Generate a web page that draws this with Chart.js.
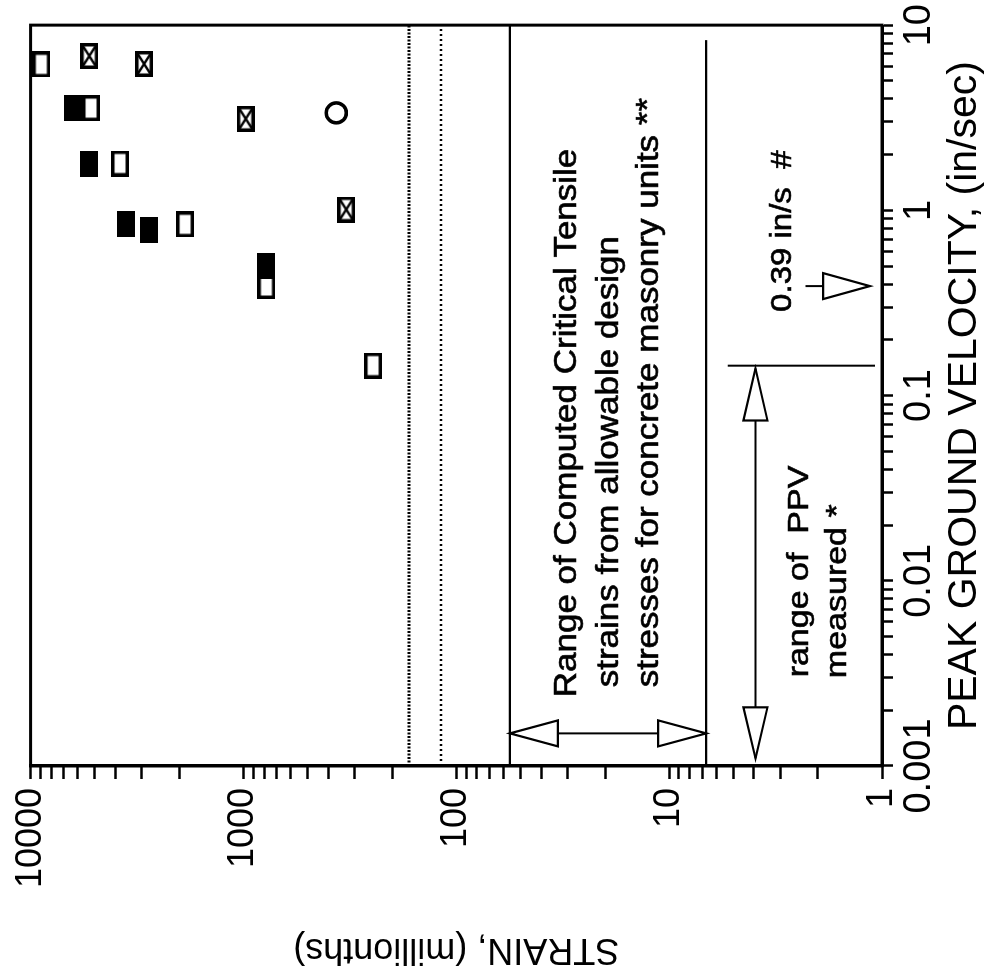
<!DOCTYPE html>
<html><head><meta charset="utf-8">
<style>
html,body{margin:0;padding:0;overflow:hidden;background:#fff;width:989px;height:973px;}
#wrap{position:absolute;left:0;top:0;width:973px;height:989px;transform-origin:0 0;transform:matrix(0,-1,1,0,0,973);background:#fff;}
canvas{display:block;}
</style>
<script src="https://cdn.jsdelivr.net/npm/chart.js@4.4.1/dist/chart.umd.min.js"></script>
</head><body><div id="wrap"><canvas id="c" width="973" height="989" style="width:973px;height:989px"></canvas></div>
<script>
// ---- data (PGV in in/sec, strain in millionths) ----
const openPgv = [6.13, 3.56, 1.79, 0.84, 0.39, 0.145];
const openStrain = [8900, 5200, 3800, 1880, 780, 246];
const filledPgv = [3.56, 1.78, 0.84, 0.78, 0.50];
const filledStrain = [6300, 5300, 3550, 2780, 780];
const crossedPgv = [6.81, 6.17, 3.12, 1.01];
const crossedStrain = [5300, 2930, 976, 329];
const circlePgv = [3.36];
const circleStrain = [366];

const pgvTickValues = [0.001, 0.01, 0.1, 1, 10];
const pgvTickLabels = ['0.001', '0.01', '0.1', '1', '10'];
const strainTickValues = [1, 10, 100, 1000, 10000];
const strainTickLabels = ['1', '10', '100', '1000', '10000'];

const allowableStrains = [167, 118];
const criticalRange = [6.7, 56];
const criticalArrowPgv = 0.0015;
const criticalLowTopPgv = 8.3;
const ppvRange = [0.0011, 0.14];
const ppvArrowStrain = 3.93;
const ppvMarkPgv = 0.145;
const ppvMarkStrain = [1.08, 5.3];
const limitPgv = 0.39;
const limitArrowStrain = [1.14, 1.89, 2.29]; // tip, head base, stem end

const noteLines = ['Range of Computed Critical Tensile', 'strains from allowable design', 'stresses for concrete masonry units **'];
const notePgv = [0.00235, 0.00266, 0.00266];
const noteStrain = [30, 19.1, 12.4];
const ppvLines = ['range of  PPV', 'measured *'];
const ppvTextPgv = [0.00301, 0.00298];
const ppvTextStrain = [2.42, 1.61];
const limitText = '0.39 in/s  #';
const limitTextPgv = 0.283;
const limitTextStrain = 2.94;

// ---- rendering ----
const FONT = "'Liberation Sans', Arial, Helvetica, sans-serif";

function makeMarker(kind) {
  const w = 26, h = 18, c = document.createElement('canvas');
  c.width = w; c.height = h;
  const g = c.getContext('2d');
  g.strokeStyle = '#000';
  if (kind === 'filled') {
    g.fillStyle = '#000'; g.fillRect(0, 0, w, h);
  } else {
    g.fillStyle = '#fff'; g.fillRect(0, 0, w, h);
    g.lineWidth = 3.5; g.strokeRect(1.75, 1.75, w - 3.5, h - 3.5);
    if (kind === 'crossed') {
      g.lineWidth = 2.5;
      g.beginPath(); g.moveTo(2, 2); g.lineTo(w - 2, h - 2); g.moveTo(w - 2, 2); g.lineTo(2, h - 2); g.stroke();
    }
  }
  return c;
}

function pts(xs, ys) { return xs.map((x, i) => ({x: x, y: ys[i]})); }
function markerDs(xs, ys, style, order) {
  return {data: pts(xs, ys), pointStyle: style, pointRadius: 10, pointHoverRadius: 10, showLine: false, order: order,
    borderColor: '#000', backgroundColor: '#000'};
}
function lineDs(data, width, dash) {
  return {data: data, showLine: true, pointRadius: 0, pointHoverRadius: 0, borderColor: '#000', borderWidth: width,
    borderDash: dash || [], fill: false, tension: 0, order: 10};
}

function logTicks(vals) {
  const out = [];
  for (let i = 0; i < vals.length - 1; i++) for (let k = 1; k < 10; k++) out.push({value: vals[i] * k});
  out.push({value: vals[vals.length - 1]});
  return out;
}
function labelFor(v, vals, labels) {
  for (let i = 0; i < vals.length; i++) if (Math.abs(v / vals[i] - 1) < 1e-6) return labels[i];
  return '';
}

const datasets = [
  markerDs(filledPgv, filledStrain, makeMarker('filled'), 0),
  markerDs(openPgv, openStrain, makeMarker('open'), 1),
  markerDs(crossedPgv, crossedStrain, makeMarker('crossed'), 2),
  Object.assign(markerDs(circlePgv, circleStrain, 'circle', 3), {backgroundColor: '#fff', borderWidth: 3.5, pointRadius: 10}),
  lineDs([{x: 0.001, y: allowableStrains[0]}, {x: 10, y: allowableStrains[0]}], 3, [2, 1.5]),
  lineDs([{x: 0.001, y: allowableStrains[1]}, {x: 10, y: allowableStrains[1]}], 2.5, [2, 3]),
  lineDs([{x: 0.001, y: criticalRange[1]}, {x: 10, y: criticalRange[1]}], 2.2),
  lineDs([{x: 0.001, y: criticalRange[0]}, {x: criticalLowTopPgv, y: criticalRange[0]}], 2.2),
  lineDs([{x: criticalArrowPgv, y: criticalRange[1]}, {x: criticalArrowPgv, y: criticalRange[0]}], 2),
  lineDs([{x: ppvRange[0], y: ppvArrowStrain}, {x: ppvRange[1], y: ppvArrowStrain}], 2),
  lineDs([{x: ppvMarkPgv, y: ppvMarkStrain[0]}, {x: ppvMarkPgv, y: ppvMarkStrain[1]}], 2),
  lineDs([{x: limitPgv, y: limitArrowStrain[1]}, {x: limitPgv, y: limitArrowStrain[2]}], 2)
];

function head(ctx, tx, ty, dx, dy, len, half) {
  const bx = tx - dx * len, by = ty - dy * len, px = -dy, py = dx;
  ctx.beginPath();
  ctx.moveTo(tx, ty);
  ctx.lineTo(bx + px * half, by + py * half);
  ctx.lineTo(bx - px * half, by - py * half);
  ctx.closePath();
  ctx.fillStyle = '#fff'; ctx.fill();
  ctx.lineWidth = 2.2; ctx.strokeStyle = '#000'; ctx.lineJoin = 'miter'; ctx.stroke();
}
function squashText(ctx, text, x, y, size, k) {
  ctx.save();
  ctx.font = size + 'px ' + FONT;
  ctx.fillStyle = '#000'; ctx.strokeStyle = '#000'; ctx.lineWidth = 0.7;
  ctx.textAlign = 'left'; ctx.textBaseline = 'middle';
  ctx.translate(x, y); ctx.scale(1, k);
  ctx.fillText(text, 0, 0);
  ctx.strokeText(text, 0, 0);
  ctx.restore();
}

const annot = {
  id: 'annot',
  afterDatasetsDraw(chart) {
    const ctx = chart.ctx, X = chart.scales.x, Y = chart.scales.y, a = chart.chartArea;
    ctx.save();
    // critical strain range double arrow
    const cu = X.getPixelForValue(criticalArrowPgv);
    head(ctx, cu, Y.getPixelForValue(criticalRange[1]), 0, -1, 48, 13);
    head(ctx, cu, Y.getPixelForValue(criticalRange[0]), 0, 1, 48, 13);
    // ppv range double arrow
    const pv = Y.getPixelForValue(ppvArrowStrain);
    head(ctx, X.getPixelForValue(ppvRange[0]), pv, -1, 0, 51, 12);
    head(ctx, X.getPixelForValue(ppvRange[1]), pv, 1, 0, 52, 12);
    // 0.39 in/s arrow
    const lu = X.getPixelForValue(limitPgv);
    const lt = Y.getPixelForValue(limitArrowStrain[0]), lb = Y.getPixelForValue(limitArrowStrain[1]);
    head(ctx, lu, lt, 0, 1, lt - lb, 13);
    // texts
    noteLines.forEach((t, i) => squashText(ctx, t, X.getPixelForValue(notePgv[i]), Y.getPixelForValue(noteStrain[i]), 35, 0.87));
    ppvLines.forEach((t, i) => squashText(ctx, t, X.getPixelForValue(ppvTextPgv[i]), Y.getPixelForValue(ppvTextStrain[i]), 34, 0.87));
    squashText(ctx, limitText, X.getPixelForValue(limitTextPgv), Y.getPixelForValue(limitTextStrain), 33, 0.92);
    // frame
    ctx.lineWidth = 3; ctx.strokeStyle = '#000';
    ctx.strokeRect(a.left, a.top, a.right - a.left, a.bottom - a.top);
    ctx.restore();
  }
};

new Chart(document.getElementById('c'), {
  type: 'scatter',
  data: {datasets: datasets},
  options: {
    responsive: false, animation: false, devicePixelRatio: 1,
    layout: {padding: {left: 0, right: 22, top: 27, bottom: 0}},
    plugins: {legend: {display: false}, tooltip: {enabled: false}},
    events: [],
    scales: {
      x: {
        type: 'logarithmic', position: 'bottom', min: 0.001, max: 10,
        afterFit: s => { s.height = 107; },
        afterBuildTicks: s => { s.ticks = logTicks(pgvTickValues); },
        grid: {display: true, drawOnChartArea: false, drawTicks: true, tickLength: 11, tickWidth: 2.5, tickColor: '#000', color: '#000'},
        border: {display: true, color: '#000', width: 3},
        ticks: {autoSkip: false, maxRotation: 0, minRotation: 0, padding: 4, color: '#000',
          font: {family: FONT, size: 38}, callback: v => labelFor(v, pgvTickValues, pgvTickLabels)},
        title: {display: true, text: 'PEAK GROUND VELOCITY, (in/sec)', color: '#000',
          font: {family: FONT, size: 41}, padding: {top: 0, bottom: 0}}
      },
      y: {
        type: 'logarithmic', position: 'left', min: 1, max: 10000,
        afterFit: s => { s.width = 207; },
        afterBuildTicks: s => { s.ticks = logTicks(strainTickValues); },
        grid: {display: true, drawOnChartArea: false, drawTicks: true, tickLength: 13, tickWidth: 2.5, tickColor: '#000', color: '#000'},
        border: {display: true, color: '#000', width: 3},
        ticks: {autoSkip: false, padding: 9, color: '#000',
          font: {family: FONT, size: 36}, callback: v => labelFor(v, strainTickValues, strainTickLabels)},
        title: {display: true, text: 'STRAIN, (millionths)', color: '#000',
          font: {family: FONT, size: 36}, padding: {top: 2, bottom: 0}}
      }
    }
  },
  plugins: [annot]
});
</script></body></html>
